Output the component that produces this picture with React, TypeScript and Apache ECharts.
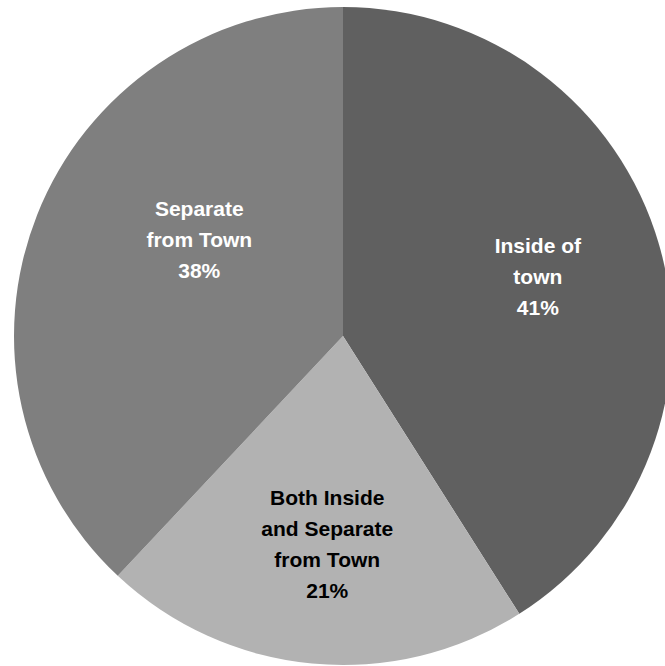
import React, { useEffect, useRef } from "react";
import * as echarts from "echarts";

const categories = ["Inside of\ntown", "Both Inside\nand Separate\nfrom Town", "Separate\nfrom Town"];
const values = [41, 21, 38];
const colors = ["#606060", "#b2b2b2", "#7f7f7f"];
const labelColors = ["#ffffff", "#000000", "#ffffff"];
const labelOffsets = [[34, -13], [0, 41], [12, -35]];

export default function App() {
  const ref = useRef<HTMLDivElement>(null);
  useEffect(() => {
    document.body.style.margin = "0";
    const chart = echarts.init(ref.current!, null, { renderer: "svg" });
    chart.setOption({
      animation: false,
      backgroundColor: "#ffffff",
      series: [
        {
          type: "pie",
          center: [343, 336],
          radius: 329,
          startAngle: 90,
          clockwise: true,
          avoidLabelOverlap: false,
          emphasis: { disabled: true },
          itemStyle: { borderWidth: 0 },
          label: {
            show: true,
            position: "inside",
            formatter: "{b}\n{c}%",
            fontFamily: "Liberation Sans",
            fontWeight: "bold",
            fontSize: 21,
            lineHeight: 31,
            align: "center",
          },
          labelLine: { show: false },
          data: categories.map((name, i) => ({
            name,
            value: values[i],
            itemStyle: { color: colors[i] },
            label: { color: labelColors[i], offset: labelOffsets[i] },
          })),
        },
      ],
    });
    return () => chart.dispose();
  }, []);
  return <div ref={ref} style={{ position: "fixed", left: 0, top: 0, width: 665, height: 666 }} />;
}
